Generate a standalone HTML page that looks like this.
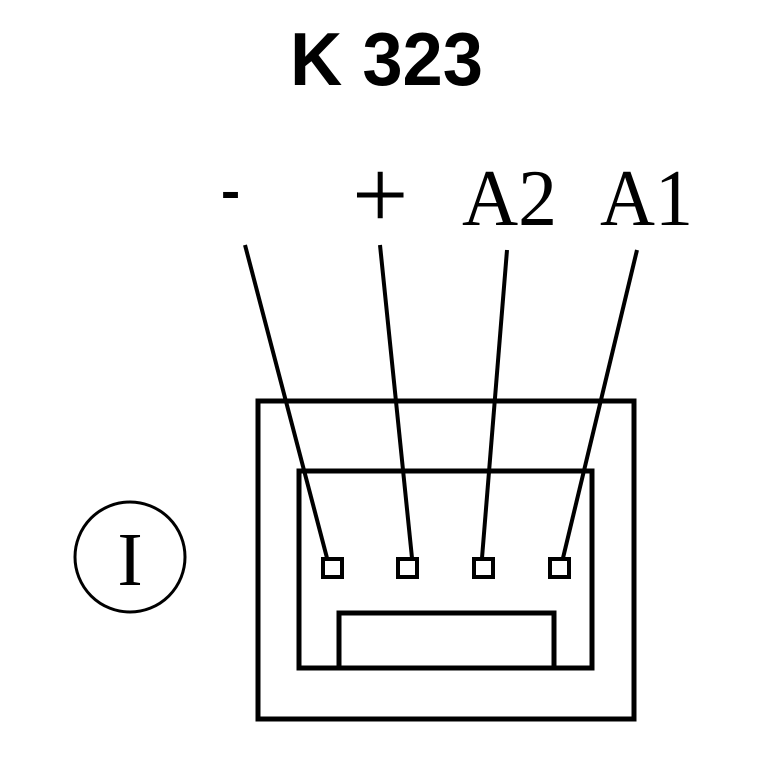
<!DOCTYPE html>
<html><head><style>html,body{margin:0;padding:0;background:#fff;}svg{display:block}</style></head>
<body>
<svg width="768" height="768" viewBox="0 0 768 768" xmlns="http://www.w3.org/2000/svg">
<rect width="768" height="768" fill="#fff"/>
<text x="290" y="85" font-family="Liberation Sans, sans-serif" font-weight="bold" font-size="75" textLength="193" lengthAdjust="spacingAndGlyphs">K 323</text>
<g font-family="Liberation Serif, serif" font-size="80" fill="#000">
<text x="221" y="214" textLength="19" lengthAdjust="spacingAndGlyphs">-</text>
<text x="352" y="228" font-size="100">+</text>
<text x="462" y="225" textLength="95" lengthAdjust="spacingAndGlyphs">A2</text>
<text x="600" y="225" textLength="93" lengthAdjust="spacingAndGlyphs">A1</text>
</g>
<g fill="none" stroke="#000" stroke-width="5">
<rect x="258" y="401" width="376" height="318"/>
<rect x="299" y="471" width="293" height="197"/>
<path d="M339 668 V613 H554 V668"/>
</g>
<g fill="none" stroke="#000" stroke-width="4">
<rect x="323" y="559" width="19" height="18"/>
<rect x="398" y="559" width="19" height="18"/>
<rect x="474" y="559" width="19" height="18"/>
<rect x="550" y="559" width="19" height="18"/>
<line x1="245" y1="245" x2="327" y2="558"/>
<line x1="380" y1="245" x2="412" y2="558"/>
<line x1="507" y1="250" x2="482" y2="558"/>
<line x1="637" y1="250" x2="563" y2="558"/>
<circle cx="130" cy="557" r="55" stroke-width="3"/>
</g>
<text x="130" y="585" text-anchor="middle" font-family="Liberation Serif, serif" font-size="76">I</text>
</svg>
</body></html>
